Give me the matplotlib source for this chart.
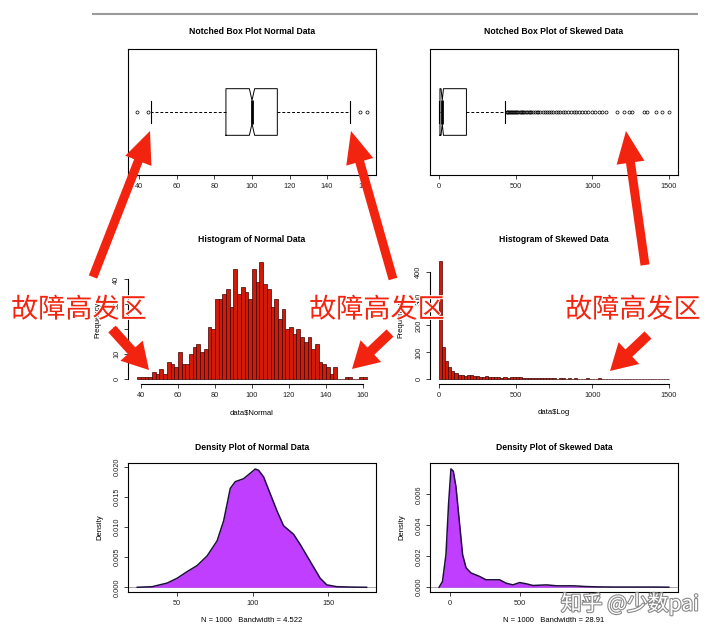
import numpy as np
import matplotlib
matplotlib.use("Agg")
import matplotlib.pyplot as plt
import matplotlib.patheffects as pe

W, H = 720, 637

# ---- данные ----
# box plots (статистика R boxplot)
normal_box = dict(whislo=46.4, q1=86.1, med=100.0, q3=113.5, whishi=152.1, cilo=98.6, cihi=101.4)
normal_fliers = [38.8, 44.5, 157.6, 161.2]
skew_box = dict(whislo=0.5, q1=5.0, med=20.0, q3=178.0, whishi=433.0, cilo=12.0, cihi=28.0)
skew_fliers = [440, 445, 452, 458, 463, 470, 476, 481, 488, 495, 502, 510, 518, 525, 533,
               540, 548, 556, 565, 575, 584, 592, 603, 612, 624, 636, 648, 661, 675, 688,
               702, 716, 730, 745, 760, 776, 792, 808, 825, 842, 860, 878, 896, 915, 935,
               955, 975, 998, 1020, 1045, 1065, 1090, 1160, 1205, 1238, 1258, 1336, 1356,
               1415, 1454, 1500]

# histograms
normal_bin_start, normal_bin_width = 38, 2
normal_counts = [1, 1, 1, 1, 3, 2, 4, 2, 7, 6,
                 5, 11, 6, 6, 10, 13, 14, 11, 12, 21,
                 20, 32, 32, 34, 36, 29, 44, 34, 37, 35,
                 32, 44, 39, 47, 38, 36, 29, 32, 24, 28,
                 20, 21, 18, 20, 17, 15, 17, 12, 14, 7,
                 6, 5, 2, 5, 0, 0, 1, 1, 0, 0,
                 1, 1]
skew_bin_start, skew_bin_width = 0, 20
skew_counts = [440, 118, 68, 46, 30, 22, 17, 15, 13, 14,
               15, 12, 11, 10, 10, 11, 10, 9, 8, 7,
               6, 7, 6, 7, 9, 10, 7, 5, 5, 4,
               4, 4, 3, 3, 4, 3, 3, 4, 2, 3,
               3, 2, 3, 2, 3, 2, 1, 2, 3, 1,
               2, 1, 3, 1, 1, 2, 0, 1, 1, 0,
               1, 1, 1, 0, 1, 0, 1, 1, 0, 1,
               0, 1, 1, 0, 1]

# density curves
normal_dens_x = [23.6, 33.5, 43.4, 50.0, 56.6, 63.2, 69.8, 76.4, 80.7, 83.0, 85.1, 88.4, 93.9,
                 98.3, 101.6, 103.8, 107.1, 111.5, 115.9, 120.3, 126.9, 131.3, 137.9, 144.5,
                 148.9, 155.5, 166.4, 175.2]
normal_dens_y = [0, 0.0001, 0.0007, 0.0015, 0.0026, 0.0036, 0.0052, 0.0077, 0.0110, 0.0138,
                 0.0164, 0.0175, 0.0180, 0.0189, 0.0196, 0.0194, 0.0183, 0.0155, 0.0127, 0.0102,
                 0.0088, 0.0071, 0.0043, 0.0015, 0.0004, 0.0001, 0.00003, 0]
skew_dens_x = [-80, -56, -31, -12, 5, 22, 41, 65, 89, 114, 150, 210, 258, 355, 403, 451, 500,
               548, 596, 693, 766, 886, 983, 1080, 1176, 1321, 1466, 1575]
skew_dens_y = [0, 0.00037, 0.0021, 0.0054, 0.00765, 0.0075, 0.0065, 0.0043, 0.0021, 0.00125,
               0.00092, 0.0007, 0.00048, 0.00048, 0.00026, 0.00015, 0.0003, 0.00022, 0.00011,
               0.00015, 0.00009, 0.00009, 0.00004, 0.00002, 0.00001, 0.00001, 0.00001, 0]

normal_ticks = [40, 60, 80, 100, 120, 140, 160]
skew_ticks = [0, 500, 1000, 1500]
normal_dens_ticks = [50, 100, 150]
normal_dens_yticks = [0.000, 0.005, 0.010, 0.015, 0.020]
skew_dens_yticks = [0.000, 0.002, 0.004, 0.006]

annot_text = "故障高发区"
RED = "#F3240F"
BAR = "#D01A0A"
BAR_EDGE = "#3C0300"
PURPLE = "#BF3EFF"

plt.rcParams['font.family'] = ['Liberation Sans', 'DejaVu Sans']

fig = plt.figure(figsize=(W / 100, H / 100), dpi=100, facecolor='white')


def px_axes(x0, y0, x1, y1):
    return fig.add_axes([x0 / W, 1 - y1 / H, (x1 - x0) / W, (y1 - y0) / H])


def ftext(x, y, s, **kw):
    fig.text(x / W, 1 - y / H, s, ha='center', va='center', **kw)


def style(ax):
    for sp in ax.spines.values():
        sp.set_linewidth(0.8)
    ax.tick_params(labelsize=5.3, length=3, width=0.6, pad=2.5, colors='#222222')


def rot_y(ax):
    ax.tick_params(axis='y', labelrotation=90)
    plt.setp(ax.get_yticklabels(), va='center')


# ---- box plots ----
def boxplot(ax, stats, fliers, xlim, ticks):
    st = dict(stats)
    st['fliers'] = fliers
    ax.bxp([st], positions=[1], widths=0.37, capwidths=0.18, orientation='horizontal',
           shownotches=True,
           boxprops=dict(color='black', lw=0.7),
           whiskerprops=dict(color='black', lw=0.7, linestyle=(0, (3, 2))),
           capprops=dict(color='black', lw=0.8),
           medianprops=dict(color='black', lw=2),
           flierprops=dict(marker='o', markersize=2.2, markerfacecolor='none',
                           markeredgecolor='black', markeredgewidth=0.5))
    ax.set_xlim(*xlim)
    ax.set_ylim(0.5, 1.5)
    ax.set_yticks([])
    ax.set_xticks(ticks)
    style(ax)


ax1 = px_axes(128, 49, 376, 175)
boxplot(ax1, normal_box, normal_fliers, (33.9, 166.1), normal_ticks)
ftext(252, 32, "Notched Box Plot Normal Data", fontsize=6.2, fontweight='bold')

ax2 = px_axes(430, 49, 678, 175)
boxplot(ax2, skew_box, skew_fliers, (-60, 1560), skew_ticks)
ftext(554, 32, "Notched Box Plot of Skewed Data", fontsize=6.2, fontweight='bold')


# ---- histograms ----
def histplot(ax, start, width, counts, xlim, ylim, xticks, yticks):
    lefts = start + width * np.arange(len(counts))
    ax.bar(lefts, counts, width=width, align='edge', color=BAR, edgecolor=BAR_EDGE, linewidth=0.5)
    ax.set_xlim(*xlim)
    ax.set_ylim(*ylim)
    ax.set_xticks(xticks)
    ax.set_yticks(yticks)
    ax.spines['top'].set_visible(False)
    ax.spines['right'].set_visible(False)
    ax.spines['left'].set_bounds(yticks[0], yticks[-1])
    ax.spines['bottom'].set_bounds(xticks[0], xticks[-1])
    style(ax)
    rot_y(ax)


ax3 = px_axes(128, 256, 376, 384)
histplot(ax3, normal_bin_start, normal_bin_width, normal_counts, (33, 167), (-1.9, 49.4),
         normal_ticks, [0, 10, 20, 30, 40])
ftext(252, 240, "Histogram of Normal Data", fontsize=6.2, fontweight='bold')
ftext(252, 413, "data$Normal", fontsize=5.5)
ftext(98, 320, "Frequency", fontsize=5.5, rotation=90)

ax4 = px_axes(430, 256, 678, 384)
histplot(ax4, skew_bin_start, skew_bin_width, skew_counts, (-60, 1560), (-17.6, 457.6),
         skew_ticks, [0, 100, 200, 300, 400])
ftext(554, 240, "Histogram of Skewed Data", fontsize=6.2, fontweight='bold')
ftext(554, 413, "data$Log", fontsize=5.5)
ftext(401, 320, "Frequency", fontsize=5.5, rotation=90)


# ---- density plots ----
def densplot(ax, x, y, xlim, ylim, xticks, yticks):
    ax.axhline(0, color='#9a9a9a', lw=0.6, zorder=1)
    ax.fill_between(x, y, 0, color=PURPLE, lw=0, zorder=2)
    ax.plot(x, y, color='#1E0F3C', lw=1.1, zorder=3)
    ax.set_xlim(*xlim)
    ax.set_ylim(*ylim)
    ax.set_xticks(xticks)
    ax.set_yticks(yticks)
    ax.set_yticklabels([f"{v:.3f}" for v in yticks])
    style(ax)
    rot_y(ax)


ax5 = px_axes(128, 463, 376, 592)
densplot(ax5, normal_dens_x, normal_dens_y, (17.5, 181.4), (-0.00078, 0.0206),
         normal_dens_ticks, normal_dens_yticks)
ftext(252, 448, "Density Plot of Normal Data", fontsize=6.2, fontweight='bold')
ftext(252, 621, "N = 1000   Bandwidth = 4.522", fontsize=5.5)
ftext(100, 527, "Density", fontsize=5.5, rotation=90)

ax6 = px_axes(430, 463, 678, 592)
densplot(ax6, skew_dens_x, skew_dens_y, (-146, 1641), (-0.00031, 0.00803),
         skew_ticks, skew_dens_yticks)
ftext(554, 448, "Density Plot of Skewed Data", fontsize=6.2, fontweight='bold')
ftext(554, 621, "N = 1000   Bandwidth = 28.91", fontsize=5.5)
ftext(402, 527, "Density", fontsize=5.5, rotation=90)

# ---- слой с аннотациями (в пикселях) ----
ov = fig.add_axes([0, 0, 1, 1])
ov.set_zorder(10)
ov.set_xlim(0, W)
ov.set_ylim(H, 0)
ov.axis('off')
ov.patch.set_alpha(0)

ov.plot([93, 697], [14, 14], color='#9a9a9a', lw=1.5)

# длинные стрелки вверх к боксплотам
for (x0, y0, x1, y1) in [(93, 277, 150, 131), (393, 279, 351, 131), (645, 265, 626, 131)]:
    ov.arrow(x0, y0, x1 - x0, y1 - y0, width=9, head_width=28, head_length=32,
             length_includes_head=True, color=RED, lw=0)
# короткие стрелки вниз к гистограммам
for (x0, y0, x1, y1) in [(112, 329, 149, 370), (390, 333, 352, 369), (648, 335, 610, 371)]:
    ov.arrow(x0, y0, x1 - x0, y1 - y0, width=10, head_width=30, head_length=26,
             length_includes_head=True, color=RED, lw=0)

halo = [pe.withStroke(linewidth=1.5, foreground='white')]
for cx in (79, 377, 633):
    ov.text(cx, 310, annot_text, color=RED, fontsize=19.5, ha='center', va='center',
            family=['Noto Sans CJK SC', 'DejaVu Sans'], path_effects=halo)

ov.text(630, 604, "知乎 @少数pai", color='white', fontsize=15, ha='center', va='center',
        family=['Noto Sans CJK SC', 'DejaVu Sans'],
        path_effects=[pe.withStroke(linewidth=1.6, foreground='#8a8a8a')])

fig.savefig("out.png", dpi=100, facecolor='white')
